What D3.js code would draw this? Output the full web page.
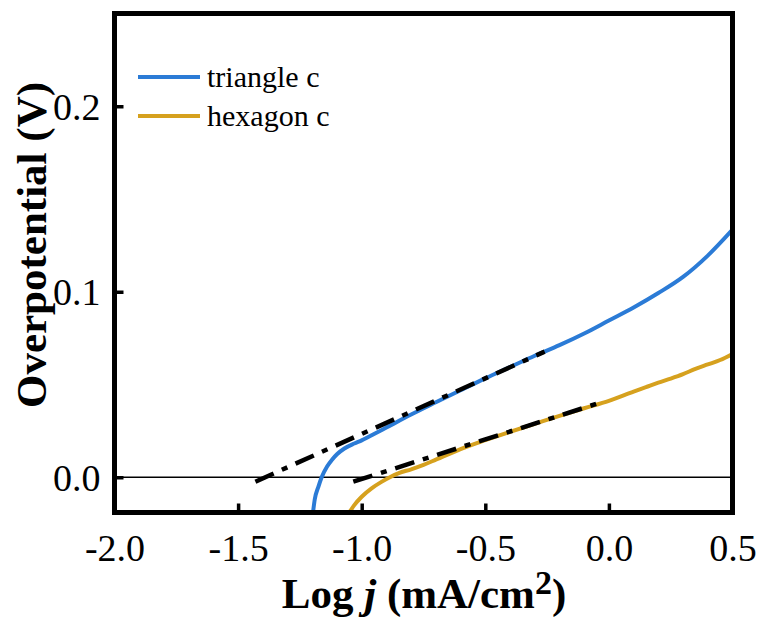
<!DOCTYPE html>
<html>
<head>
<meta charset="utf-8">
<script src="https://cdn.jsdelivr.net/npm/d3@7"></script>
<style>
  html, body { margin: 0; padding: 0; background: #fff; }
  svg text { font-family: "Liberation Serif", "Times New Roman", serif; fill: #000; }
</style>
</head>
<body>
<svg id="chart" width="765" height="622"></svg>
<script>
// Tafel plot: overpotential vs log current density
const triangleX = [-1.197, -1.19, -1.175, -1.162, -1.14, -1.12, -1.10, -1.07, -1.03, -1.0, -0.95, -0.9, -0.8, -0.7, -0.6, -0.5, -0.4, -0.3, -0.2, -0.1, 0.0, 0.1, 0.2, 0.3, 0.4, 0.5];
const triangleY = [-0.019, -0.012, -0.005, 0.0, 0.0058, 0.0095, 0.0124, 0.0155, 0.0182, 0.0199, 0.0233, 0.0268, 0.0338, 0.0404, 0.0469, 0.0533, 0.0594, 0.0655, 0.0712, 0.0775, 0.0845, 0.0915, 0.0993, 0.1080, 0.1195, 0.1335];

const hexagonX = [-1.05, -1.03, -1.0, -0.96, -0.92, -0.886, -0.85, -0.8, -0.75, -0.7, -0.6, -0.5, -0.4, -0.3, -0.2, -0.1, 0.0, 0.1, 0.15, 0.2, 0.25, 0.3, 0.35, 0.4, 0.45, 0.5];
const hexagonY = [-0.019, -0.015, -0.0105, -0.006, -0.0025, 0.0, 0.0022, 0.0043, 0.0067, 0.0095, 0.0152, 0.0200, 0.0245, 0.0288, 0.0331, 0.0372, 0.0412, 0.0462, 0.0486, 0.0510, 0.0532, 0.0556, 0.0584, 0.0608, 0.0632, 0.0665];

// Linear Tafel fits (endpoints)
const triangleFitX = [-1.43, -0.26];
const triangleFitY = [-0.0024, 0.0677];
const hexagonFitX = [-1.034, -0.036];
const hexagonFitY = [-0.0024, 0.0402];

const xTicks = [-2.0, -1.5, -1.0, -0.5, 0.0, 0.5];
const yTicks = [0.0, 0.1, 0.2];
const seriesNames = ["triangle c", "hexagon c"];
const seriesColors = ["#2b7bd6", "#d6a11e"];

const svg = d3.select("#chart");
const plot = { left: 114.5, right: 732.5, top: 13.5, bottom: 512.5 };

const x = d3.scaleLinear().domain([-2.0, 0.5]).range([plot.left, plot.right]);
const y = d3.scaleLinear().domain([-0.019, 0.25]).range([plot.bottom, plot.top]);

const zip = (xs, ys) => xs.map((v, i) => [v, ys[i]]);
const line = d3.line().x(d => x(d[0])).y(d => y(d[1])).curve(d3.curveMonotoneX);
const straight = d3.line().x(d => x(d[0])).y(d => y(d[1]));

svg.append("clipPath").attr("id", "plotClip")
  .append("rect")
  .attr("x", plot.left).attr("y", plot.top)
  .attr("width", plot.right - plot.left).attr("height", plot.bottom - plot.top);

const g = svg.append("g").attr("clip-path", "url(#plotClip)");

// zero reference line
g.append("line")
  .attr("x1", plot.left).attr("x2", plot.right)
  .attr("y1", y(0)).attr("y2", y(0))
  .attr("stroke", "#000").attr("stroke-width", 1.5);

// measured curves
[zip(triangleX, triangleY), zip(hexagonX, hexagonY)].forEach((pts, i) => {
  g.append("path")
    .attr("d", line(pts))
    .attr("fill", "none")
    .attr("stroke", seriesColors[i])
    .attr("stroke-width", 4);
});

// Tafel fit lines
[zip(triangleFitX, triangleFitY), zip(hexagonFitX, hexagonFitY)].forEach(pts => {
  g.append("path")
    .attr("d", straight(pts))
    .attr("fill", "none")
    .attr("stroke", "#000")
    .attr("stroke-width", 4.5)
    .attr("stroke-dasharray", "20,9,6,9");
});

// axes with inward ticks
const xAxis = d3.axisBottom(x).tickValues(xTicks).tickSize(-9).tickPadding(22)
  .tickFormat(d3.format(".1f"));
const yAxis = d3.axisLeft(y).tickValues(yTicks).tickSize(-9).tickPadding(14)
  .tickFormat(d3.format(".1f"));

const gx = svg.append("g").attr("transform", `translate(0,${plot.bottom})`).call(xAxis);
const gy = svg.append("g").attr("transform", `translate(${plot.left},0)`).call(yAxis);
[gx, gy].forEach(a => {
  a.select(".domain").remove();
  a.selectAll(".tick line").attr("stroke", "#000").attr("stroke-width", 3.5);
  a.selectAll(".tick text").style("font-size", "38px").attr("fill", "#000");
});
gx.selectAll(".tick text").text(d => d3.format(".1f")(d).replace("−", "-"));
gy.selectAll(".tick text").attr("dy", "0.34em");

// frame
svg.append("rect")
  .attr("x", plot.left).attr("y", plot.top)
  .attr("width", plot.right - plot.left).attr("height", plot.bottom - plot.top)
  .attr("fill", "none").attr("stroke", "#000").attr("stroke-width", 5);

// legend
seriesNames.forEach((name, i) => {
  const ly = 77 + i * 39;
  svg.append("line")
    .attr("x1", 138).attr("x2", 200).attr("y1", ly).attr("y2", ly)
    .attr("stroke", seriesColors[i]).attr("stroke-width", 4);
  svg.append("text")
    .attr("x", 207).attr("y", ly).attr("dy", "0.32em")
    .style("font-size", "30px")
    .text(name);
});

// axis titles
const xt = svg.append("text")
  .attr("x", 424).attr("y", 608)
  .attr("text-anchor", "middle")
  .style("font-size", "43px").style("font-weight", "bold");
xt.append("tspan").text("Log ");
xt.append("tspan").style("font-style", "italic").text("j");
xt.append("tspan").text(" (mA/cm");
xt.append("tspan").attr("dy", "-14").style("font-size", "34px").text("2");
xt.append("tspan").attr("dy", "14").text(")");

svg.append("text")
  .attr("transform", "translate(46,245) rotate(-90)")
  .attr("text-anchor", "middle")
  .style("font-size", "43px").style("font-weight", "bold")
  .text("Overpotential (V)");
</script>
</body>
</html>
